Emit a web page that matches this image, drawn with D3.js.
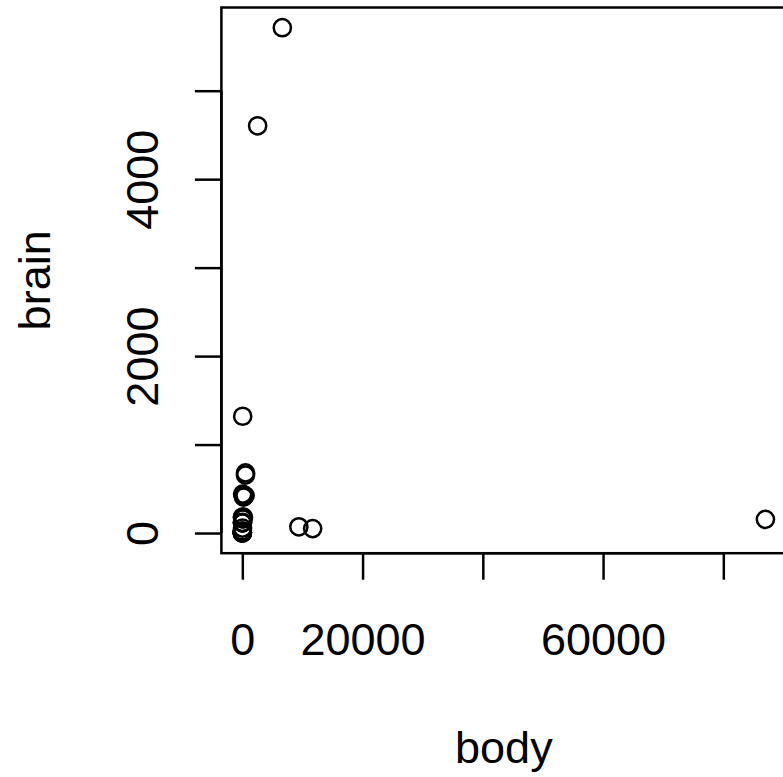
<!DOCTYPE html>
<html>
<head>
<meta charset="utf-8">
<script src="https://cdn.jsdelivr.net/npm/d3@7"></script>
<style>
html,body{margin:0;padding:0;background:#fff;}
svg{display:block;}
text{font-family:"Liberation Sans",Arial,sans-serif;fill:#000;}
</style>
</head>
<body>
<script>
const animals = ["Mountain beaver","Cow","Grey wolf","Goat","Guinea pig","Dipliodocus","Asian elephant","Donkey","Horse","Potar monkey","Cat","Giraffe","Gorilla","Human","African elephant","Triceratops","Rhesus monkey","Kangaroo","Golden hamster","Mouse","Rabbit","Sheep","Jaguar","Chimpanzee","Rat","Brachiosaurus","Mole","Pig"];
const body = [1.35,465,36.33,27.66,1.04,11700,2547,187.1,521,10,3.3,529,207,62,6654,9400,6.8,35,0.12,0.023,2.5,55.5,100,52.16,0.28,87000,0.122,192];
const brain = [8.1,423,119.5,115,5.5,50,4603,419,655,115,25.6,680,406,1320,5712,70,179,56,1,0.4,12.1,175,157,440,1.9,154.5,3,180];
const xTicks = [0,20000,40000,60000,80000];
const xTickLabels = ["0","20000","","60000",""];
const yTicks = [0,1000,2000,3000,4000,5000];
const yTickLabels = ["0","","2000","","4000",""];
const xTitle = "body", yTitle = "brain";

const W = 783, H = 777;
const svg = d3.select("body").append("svg").attr("width", W).attr("height", H);

function padExt(vals){
  const lo = d3.min(vals), hi = d3.max(vals), d = (hi - lo) * 0.04;
  return [lo - d, hi + d];
}
const xDom = padExt(body), yDom = padExt(brain);
const x = d3.scaleLinear().domain(xDom).range([221.4, 221.4 + (xDom[1]-xDom[0]) * 0.0060125]);
const y = d3.scaleLinear().domain(yDom).range([553.2, 7.5]);

const fs = 45, lw = 2.5;

// box
svg.append("rect")
  .attr("x", x.range()[0]).attr("y", y.range()[1])
  .attr("width", x.range()[1]-x.range()[0]).attr("height", y.range()[0]-y.range()[1])
  .attr("fill","none").attr("stroke","#000").attr("stroke-width",lw);

// x axis
const xAxis = d3.axisBottom(x).tickValues(xTicks).tickSize(26.5).tickSizeOuter(0)
  .tickFormat((d,i)=>xTickLabels[i]);
const gx = svg.append("g").attr("transform",`translate(0,${y.range()[0]})`).call(xAxis);
gx.select(".domain").attr("d", `M${x(xTicks[0])},0H${x(xTicks[xTicks.length-1])}`)
  .attr("stroke","#000").attr("stroke-width",lw);
gx.selectAll(".tick line").attr("stroke","#000").attr("stroke-width",lw);
gx.selectAll(".tick text").attr("y", 0).attr("dy", 0)
  .attr("transform", `translate(0,${655 - y.range()[0]})`)
  .style("font-size", fs+"px").style("font-family","'Liberation Sans',Arial,sans-serif").attr("fill","#000");

// y axis
const yAxis = d3.axisLeft(y).tickValues(yTicks).tickSize(26.5).tickSizeOuter(0)
  .tickFormat((d,i)=>yTickLabels[i]);
const gy = svg.append("g").attr("transform",`translate(${x.range()[0]},0)`).call(yAxis);
gy.select(".domain").attr("d", `M0,${y(yTicks[0])}V${y(yTicks[yTicks.length-1])}`)
  .attr("stroke","#000").attr("stroke-width",lw);
gy.selectAll(".tick line").attr("stroke","#000").attr("stroke-width",lw);
gy.selectAll(".tick text").attr("x", 0).attr("dy", 0)
  .attr("text-anchor","middle")
  .attr("transform", `translate(${158 - x.range()[0]},0) rotate(-90)`)
  .style("font-size", fs+"px").style("font-family","'Liberation Sans',Arial,sans-serif").attr("fill","#000");

// points
svg.append("g").selectAll("circle").data(body.map((b,i)=>({b, r: brain[i], name: animals[i]})))
  .join("circle")
  .attr("cx", d=>x(d.b)).attr("cy", d=>y(d.r)).attr("r", 8.6)
  .attr("fill","none").attr("stroke","#000").attr("stroke-width",lw);

// titles
const cx = (x.range()[0] + x.range()[1]) / 2;
const cy = (y.range()[0] + y.range()[1]) / 2;
svg.append("text").attr("x", cx).attr("y", 763).attr("text-anchor","middle")
  .style("font-size", fs+"px").text(xTitle);
svg.append("text").attr("transform", `translate(50,${cy}) rotate(-90)`).attr("text-anchor","middle")
  .style("font-size", fs+"px").text(yTitle);
</script>
</body>
</html>
